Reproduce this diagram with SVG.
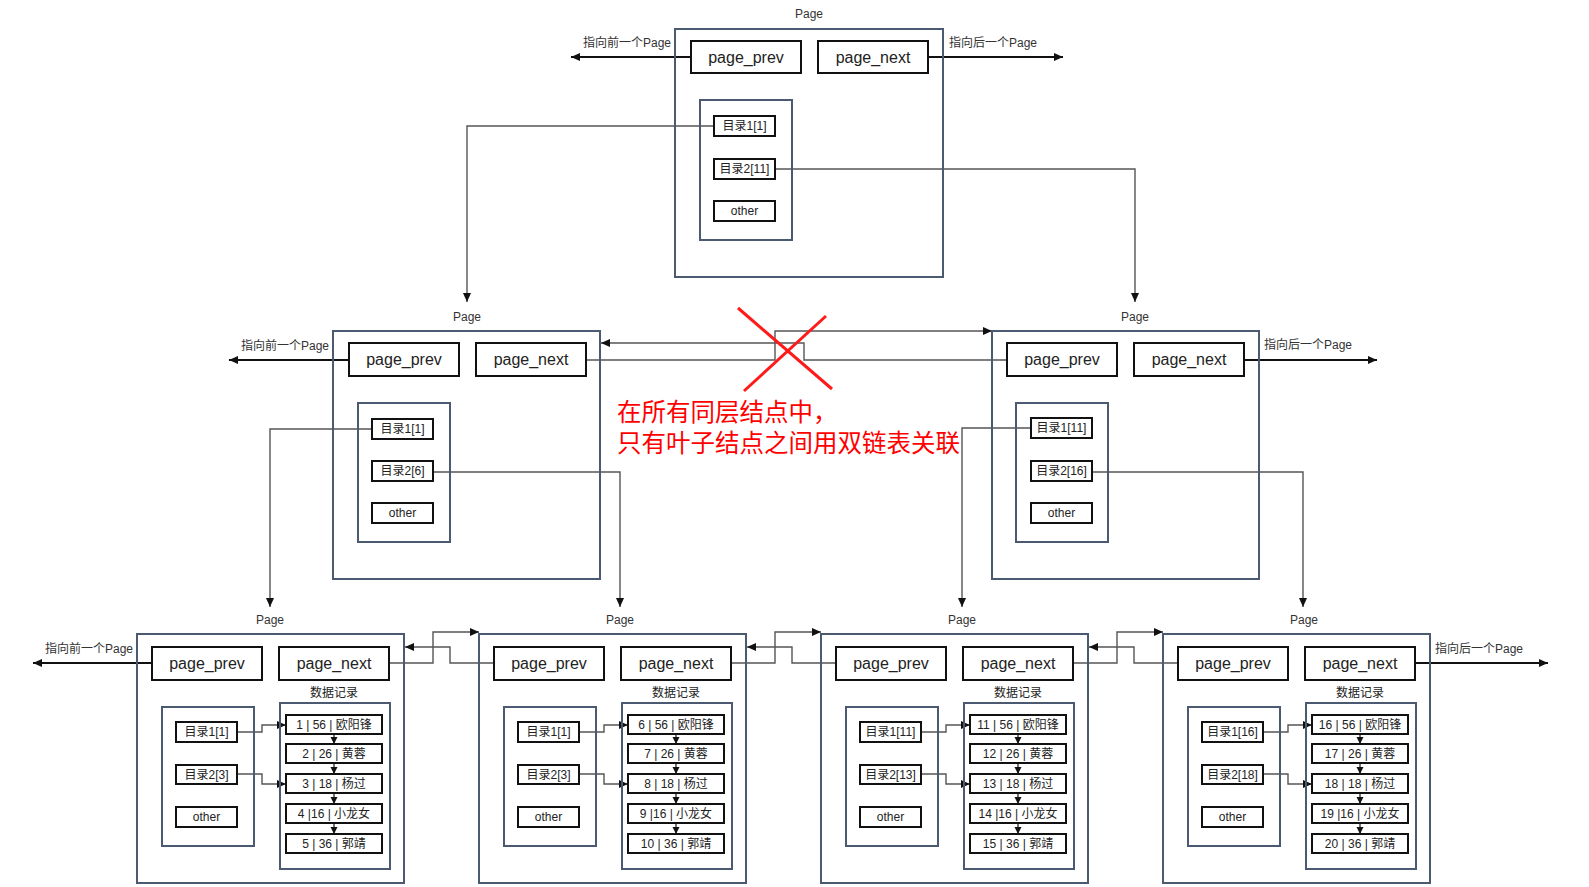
<svg xmlns="http://www.w3.org/2000/svg" width="1589" height="887" viewBox="0 0 1589 887">
<style>
text{font-family:"Liberation Sans","Noto Sans CJK SC",sans-serif;fill:#222;}
.page{fill:none;stroke:#4b5a70;stroke-width:2;}
.inner{fill:none;stroke:#4b5a70;stroke-width:2;}
.ptr{fill:#fff;stroke:#111;stroke-width:2;}
.cell{fill:#fff;stroke:#111;stroke-width:2;}
.big{font-size:16px;text-anchor:middle;dominant-baseline:central;}
.sm{font-size:12px;text-anchor:middle;dominant-baseline:central;}
.lbl{font-size:12px;text-anchor:middle;fill:#333;}
.end{fill:none;stroke:#111;stroke-width:2;marker-end:url(#ah);}
.con{fill:none;stroke:#555;stroke-width:1.4;marker-end:url(#ah);}
.rec{fill:none;stroke:#111;stroke-width:1.2;marker-end:url(#as);}
.red{font-family:"Noto Sans CJK SC",sans-serif;font-size:24.5px;fill:#ff0000;}
</style>
<defs>
<marker id="ah" markerUnits="userSpaceOnUse" markerWidth="10" markerHeight="10" refX="9" refY="5" orient="auto"><path d="M0,1 L9,5 L0,9 Z" fill="#111"/></marker>
<marker id="as" markerUnits="userSpaceOnUse" markerWidth="8" markerHeight="8" refX="7" refY="4" orient="auto"><path d="M0,0.5 L7,4 L0,7.5 Z" fill="#111"/></marker>
</defs>
<rect width="1589" height="887" fill="#fff"/>

<g id="connectors">
<path class="end" d="M691 57 H571"/>
<path class="end" d="M928 57 H1063"/>
<path class="con" d="M714 126 H467 V302"/>
<path class="con" d="M775 169 H1135 V302"/>
<path class="end" d="M349 360 H229"/>
<path class="end" d="M1244 360 H1377"/>
<path class="con" d="M586 360 H775 V331 H992"/>
<path class="con" d="M1007 360 H804 V343 H601"/>
<path class="con" d="M372 429 H270 V607"/>
<path class="con" d="M433 472 H620 V607"/>
<path class="con" d="M1031 428 H962 V607"/>
<path class="con" d="M1092 472 H1303 V607"/>
<path class="end" d="M152 663 H33"/>
<path class="end" d="M1415 663 H1548"/>
<path class="con" d="M389 663 H433 V632 H479"/>
<path class="con" d="M494 663 H450 V647 H405"/>
<path class="con" d="M731 663 H775 V632 H821"/>
<path class="con" d="M836 663 H792 V647 H747"/>
<path class="con" d="M1073 663 H1117 V632 H1163"/>
<path class="con" d="M1178 663 H1134 V647 H1089"/>
<path class="con" d="M237 732 H262 V725 H286"/>
<path class="con" d="M237 774 H262 V784 H286"/>
<path class="con" d="M579 732 H604 V725 H628"/>
<path class="con" d="M579 774 H604 V784 H628"/>
<path class="con" d="M921 732 H946 V725 H970"/>
<path class="con" d="M921 774 H946 V784 H970"/>
<path class="con" d="M1263 732 H1288 V725 H1312"/>
<path class="con" d="M1263 774 H1288 V784 H1312"/>
<path class="rec" d="M334 734 V744"/><path class="rec" d="M334 763 V774"/><path class="rec" d="M334 793 V804"/><path class="rec" d="M334 823 V834"/>
<path class="rec" d="M676 734 V744"/><path class="rec" d="M676 763 V774"/><path class="rec" d="M676 793 V804"/><path class="rec" d="M676 823 V834"/>
<path class="rec" d="M1018 734 V744"/><path class="rec" d="M1018 763 V774"/><path class="rec" d="M1018 793 V804"/><path class="rec" d="M1018 823 V834"/>
<path class="rec" d="M1360 734 V744"/><path class="rec" d="M1360 763 V774"/><path class="rec" d="M1360 793 V804"/><path class="rec" d="M1360 823 V834"/>
</g>

<g id="labels">
<text class="lbl" x="627" y="47">指向前一个Page</text>
<text class="lbl" x="993" y="47">指向后一个Page</text>
<text class="lbl" x="285" y="350">指向前一个Page</text>
<text class="lbl" x="1308" y="349">指向后一个Page</text>
<text class="lbl" x="89" y="653">指向前一个Page</text>
<text class="lbl" x="1479" y="653">指向后一个Page</text>
</g>

<g id="page-root">
<text class="lbl" x="809" y="18">Page</text>
<rect class="page" x="675" y="29" width="268" height="248"/>
<rect class="ptr" x="691" y="41" width="110" height="32"/><text class="big" x="746" y="57">page_prev</text>
<rect class="ptr" x="818" y="41" width="110" height="32"/><text class="big" x="873" y="57">page_next</text>
<rect class="inner" x="700" y="100" width="92" height="140"/>
<rect class="cell" x="714" y="116" width="61" height="20"/><text class="sm" x="744.5" y="126">目录1[1]</text>
<rect class="cell" x="714" y="159" width="61" height="20"/><text class="sm" x="744.5" y="169">目录2[11]</text>
<rect class="cell" x="714" y="201" width="61" height="20"/><text class="sm" x="744.5" y="211">other</text>
</g>

<g id="page-mid-left">
<text class="lbl" x="467" y="321">Page</text>
<rect class="page" x="333" y="331" width="267" height="248"/>
<rect class="ptr" x="349" y="343" width="110" height="33"/><text class="big" x="404" y="359.5">page_prev</text>
<rect class="ptr" x="476" y="343" width="110" height="33"/><text class="big" x="531" y="359.5">page_next</text>
<rect class="inner" x="358" y="403" width="92" height="139"/>
<rect class="cell" x="372" y="419" width="61" height="20"/><text class="sm" x="402.5" y="429">目录1[1]</text>
<rect class="cell" x="372" y="461" width="61" height="20"/><text class="sm" x="402.5" y="471">目录2[6]</text>
<rect class="cell" x="372" y="503" width="61" height="20"/><text class="sm" x="402.5" y="513">other</text>
</g>

<g id="page-mid-right">
<text class="lbl" x="1135" y="321">Page</text>
<rect class="page" x="992" y="331" width="267" height="248"/>
<rect class="ptr" x="1007" y="343" width="110" height="33"/><text class="big" x="1062" y="359.5">page_prev</text>
<rect class="ptr" x="1134" y="343" width="110" height="33"/><text class="big" x="1189" y="359.5">page_next</text>
<rect class="inner" x="1016" y="403" width="92" height="139"/>
<rect class="cell" x="1031" y="418" width="61" height="20"/><text class="sm" x="1061.5" y="428">目录1[11]</text>
<rect class="cell" x="1031" y="461" width="61" height="20"/><text class="sm" x="1061.5" y="471">目录2[16]</text>
<rect class="cell" x="1031" y="503" width="61" height="20"/><text class="sm" x="1061.5" y="513">other</text>
</g>

<g id="note">
<line x1="738" y1="308" x2="832" y2="389" stroke="#ff1a1a" stroke-width="3"/>
<line x1="826" y1="316" x2="744" y2="391" stroke="#ff1a1a" stroke-width="3"/>
<text class="red" x="617" y="421"><tspan x="617" y="421">在所有同层结点中，</tspan><tspan x="617" y="452">只有叶子结点之间用双链表关联</tspan></text>
</g>

<g id="leaf-1">
<text class="lbl" x="270" y="624">Page</text>
<rect class="page" x="137" y="634" width="267" height="249"/>
<rect class="ptr" x="152" y="647" width="110" height="33"/><text class="big" x="207" y="663.5">page_prev</text>
<rect class="ptr" x="279" y="647" width="110" height="33"/><text class="big" x="334" y="663.5">page_next</text>
<text class="sm" x="334" y="693">数据记录</text>
<rect class="inner" x="162" y="707" width="92" height="139"/>
<rect class="cell" x="176" y="722" width="61" height="20"/><text class="sm" x="206.5" y="732">目录1[1]</text>
<rect class="cell" x="176" y="765" width="61" height="19"/><text class="sm" x="206.5" y="774.5">目录2[3]</text>
<rect class="cell" x="176" y="807" width="61" height="20"/><text class="sm" x="206.5" y="817">other</text>
<rect class="inner" x="280" y="703" width="110" height="166"/>
<rect class="cell" x="286" y="715" width="96" height="19"/><text class="sm" x="334" y="724.5">1 | 56 | 欧阳锋</text>
<rect class="cell" x="286" y="744" width="96" height="19"/><text class="sm" x="334" y="753.5">2 | 26 | 黄蓉</text>
<rect class="cell" x="286" y="774" width="96" height="19"/><text class="sm" x="334" y="783.5">3 | 18 | 杨过</text>
<rect class="cell" x="286" y="804" width="96" height="19"/><text class="sm" x="334" y="813.5">4 |16 | 小龙女</text>
<rect class="cell" x="286" y="834" width="96" height="19"/><text class="sm" x="334" y="843.5">5 | 36 | 郭靖</text>
</g>

<g id="leaf-2">
<text class="lbl" x="620" y="624">Page</text>
<rect class="page" x="479" y="634" width="267" height="249"/>
<rect class="ptr" x="494" y="647" width="110" height="33"/><text class="big" x="549" y="663.5">page_prev</text>
<rect class="ptr" x="621" y="647" width="110" height="33"/><text class="big" x="676" y="663.5">page_next</text>
<text class="sm" x="676" y="693">数据记录</text>
<rect class="inner" x="504" y="707" width="92" height="139"/>
<rect class="cell" x="518" y="722" width="61" height="20"/><text class="sm" x="548.5" y="732">目录1[1]</text>
<rect class="cell" x="518" y="765" width="61" height="19"/><text class="sm" x="548.5" y="774.5">目录2[3]</text>
<rect class="cell" x="518" y="807" width="61" height="20"/><text class="sm" x="548.5" y="817">other</text>
<rect class="inner" x="622" y="703" width="110" height="166"/>
<rect class="cell" x="628" y="715" width="96" height="19"/><text class="sm" x="676" y="724.5">6 | 56 | 欧阳锋</text>
<rect class="cell" x="628" y="744" width="96" height="19"/><text class="sm" x="676" y="753.5">7 | 26 | 黄蓉</text>
<rect class="cell" x="628" y="774" width="96" height="19"/><text class="sm" x="676" y="783.5">8 | 18 | 杨过</text>
<rect class="cell" x="628" y="804" width="96" height="19"/><text class="sm" x="676" y="813.5">9 |16 | 小龙女</text>
<rect class="cell" x="628" y="834" width="96" height="19"/><text class="sm" x="676" y="843.5">10 | 36 | 郭靖</text>
</g>

<g id="leaf-3">
<text class="lbl" x="962" y="624">Page</text>
<rect class="page" x="821" y="634" width="267" height="249"/>
<rect class="ptr" x="836" y="647" width="110" height="33"/><text class="big" x="891" y="663.5">page_prev</text>
<rect class="ptr" x="963" y="647" width="110" height="33"/><text class="big" x="1018" y="663.5">page_next</text>
<text class="sm" x="1018" y="693">数据记录</text>
<rect class="inner" x="846" y="707" width="92" height="139"/>
<rect class="cell" x="860" y="722" width="61" height="20"/><text class="sm" x="890.5" y="732">目录1[11]</text>
<rect class="cell" x="860" y="765" width="61" height="19"/><text class="sm" x="890.5" y="774.5">目录2[13]</text>
<rect class="cell" x="860" y="807" width="61" height="20"/><text class="sm" x="890.5" y="817">other</text>
<rect class="inner" x="964" y="703" width="110" height="166"/>
<rect class="cell" x="970" y="715" width="96" height="19"/><text class="sm" x="1018" y="724.5">11 | 56 | 欧阳锋</text>
<rect class="cell" x="970" y="744" width="96" height="19"/><text class="sm" x="1018" y="753.5">12 | 26 | 黄蓉</text>
<rect class="cell" x="970" y="774" width="96" height="19"/><text class="sm" x="1018" y="783.5">13 | 18 | 杨过</text>
<rect class="cell" x="970" y="804" width="96" height="19"/><text class="sm" x="1018" y="813.5">14 |16 | 小龙女</text>
<rect class="cell" x="970" y="834" width="96" height="19"/><text class="sm" x="1018" y="843.5">15 | 36 | 郭靖</text>
</g>

<g id="leaf-4">
<text class="lbl" x="1304" y="624">Page</text>
<rect class="page" x="1163" y="634" width="267" height="249"/>
<rect class="ptr" x="1178" y="647" width="110" height="33"/><text class="big" x="1233" y="663.5">page_prev</text>
<rect class="ptr" x="1305" y="647" width="110" height="33"/><text class="big" x="1360" y="663.5">page_next</text>
<text class="sm" x="1360" y="693">数据记录</text>
<rect class="inner" x="1188" y="707" width="92" height="139"/>
<rect class="cell" x="1202" y="722" width="61" height="20"/><text class="sm" x="1232.5" y="732">目录1[16]</text>
<rect class="cell" x="1202" y="765" width="61" height="19"/><text class="sm" x="1232.5" y="774.5">目录2[18]</text>
<rect class="cell" x="1202" y="807" width="61" height="20"/><text class="sm" x="1232.5" y="817">other</text>
<rect class="inner" x="1306" y="703" width="110" height="166"/>
<rect class="cell" x="1312" y="715" width="96" height="19"/><text class="sm" x="1360" y="724.5">16 | 56 | 欧阳锋</text>
<rect class="cell" x="1312" y="744" width="96" height="19"/><text class="sm" x="1360" y="753.5">17 | 26 | 黄蓉</text>
<rect class="cell" x="1312" y="774" width="96" height="19"/><text class="sm" x="1360" y="783.5">18 | 18 | 杨过</text>
<rect class="cell" x="1312" y="804" width="96" height="19"/><text class="sm" x="1360" y="813.5">19 |16 | 小龙女</text>
<rect class="cell" x="1312" y="834" width="96" height="19"/><text class="sm" x="1360" y="843.5">20 | 36 | 郭靖</text>
</g>
</svg>
